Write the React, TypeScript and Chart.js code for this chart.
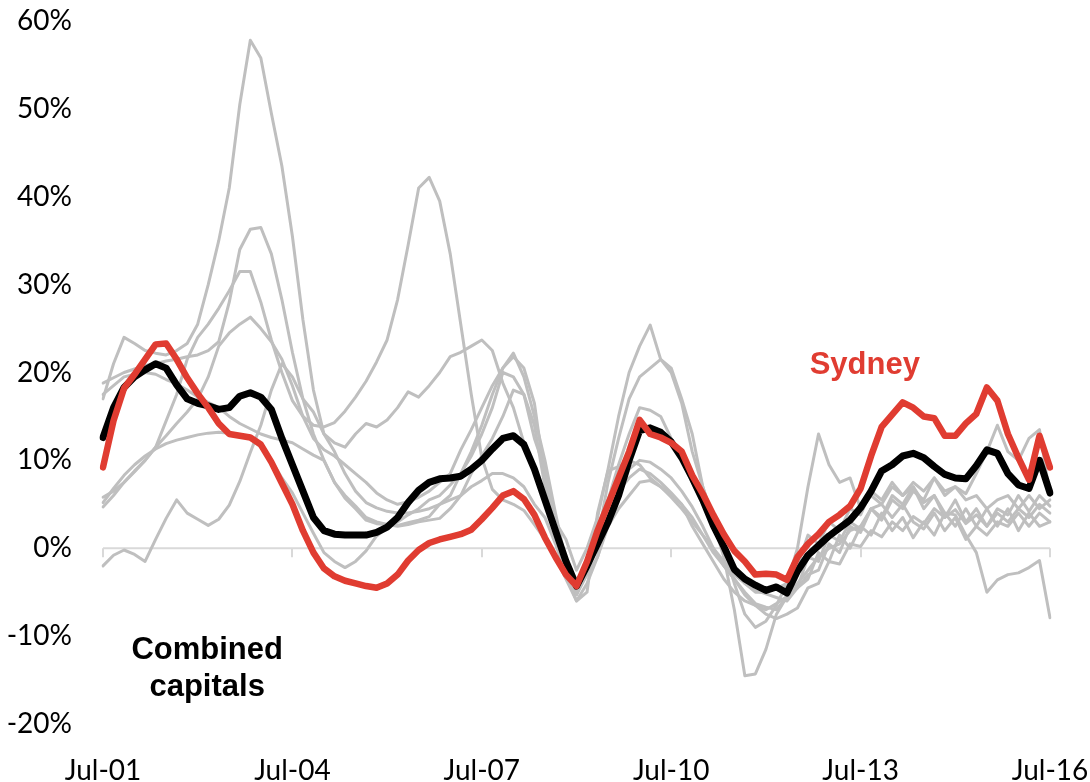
import { useEffect, useRef } from 'react';
import { Chart, registerables } from 'chart.js';

Chart.register(...registerables);

// Annual change in dwelling prices, one point every two months from Jul-01 to Jul-16 (%).
const sydney = [
  9.2, 14.5, 18.2, 19.8, 21.5, 23.2, 23.3, 21.5, 19.4, 17.6,
  16, 14.2, 13, 12.8, 12.6, 11.8, 9.8, 7.4, 5, 2,
  -0.5, -2.3, -3.2, -3.7, -4, -4.3, -4.5, -4, -3, -1.4,
  -0.2, 0.6, 1, 1.3, 1.6, 2.1, 3.3, 4.6, 6, 6.5,
  5.6, 3.8, 1.2, -1, -3, -4.3, -1.5, 2, 5, 8,
  11, 14.6, 13, 12.6, 12, 11, 8.3, 6.2, 3.8, 1.6,
  -0.3, -1.5, -3, -2.9, -3, -3.6, -1, 0.5, 1.6, 3,
  3.8, 4.8, 6.8, 10.5, 13.8, 15.2, 16.6, 16, 15, 14.8,
  12.8, 12.8, 14.2, 15.3, 18.3, 16.8, 13, 10.3, 7.8, 12.8,
  9.2,
];

const combinedCapitals = [
  12.6, 16, 18.3, 19.5, 20.3, 21, 20.5, 18.6, 17, 16.5,
  16.2, 15.8, 16, 17.3, 17.7, 17.2, 15.8, 12.5, 9.5, 6.5,
  3.5, 2, 1.6, 1.5, 1.5, 1.5, 1.8, 2.4, 3.5, 5.2,
  6.6, 7.5, 7.9, 8, 8.2, 9, 10, 11.3, 12.5, 12.8,
  11.8, 9, 5.5, 2, -1.5, -4.3, -2, 0.5, 3, 6,
  10, 13.4, 13.7, 13.2, 12.1, 10.3, 8, 5.5, 2.6, 0.2,
  -2.4, -3.5, -4.2, -4.8, -4.4, -5.1, -2.6, -0.8, 0.3, 1.4,
  2.3, 3.2, 4.6, 6.5, 8.8, 9.5, 10.5, 10.8, 10.3, 9.3,
  8.4, 8, 7.9, 9.4, 11.2, 10.8, 8.5, 7.2, 6.8, 10,
  6.3,
];

// The other capital cities, drawn as a grey backdrop.
const otherCityA = [
  17, 21, 24, 23.3, 22.5, 22.2, 22, 22.5, 23.3, 25.5,
  30, 35, 41, 50.5, 57.8, 55.8, 49.5, 43.5, 35.5, 26,
  18, 13, 11, 8.5, 6.5, 5.2, 4.6, 4.2, 4, 4,
  4.2, 4.5, 5, 5.5, 6, 8.5, 10.5, 12.5, 15, 18,
  17.5, 12.5, 9, 3, -2, -5.3, -3, -1, 3, 6,
  9, 10, 9.8, 9, 8, 6.5, 4.7, 2.5, 0, -2,
  -3.5, -5, -6.3, -6.7, -7, -5.5, -4, -2.5, -1, 0,
  0.5, 2, 2.5, 4.5, 5, 7, 6, 7.5, 6.5, 8,
  6.5, 7, 5.5, 6, 4.5, 5.5, 6, 4.5, 6, 4.5,
  5.5,
];

const otherCityB = [
  18.8, 19.4, 20, 20.4, 20.8, 21, 21.3, 21.5, 21.8, 22,
  22.5, 23.5, 28, 34, 36.3, 36.5, 33.5, 28.3, 22.3, 17,
  13, 10, 7.5, 5.7, 4.5, 3.2, 2.8, 2.7, 2.6, 2.9,
  3.2, 3.6, 5, 6, 8.5, 11, 14, 17.5, 20.5, 22.2,
  19.5, 15, 10, 4, -1.5, -5.3, -2.5, 1.5, 5, 6.5,
  8, 9, 8.5, 7.5, 6.3, 5, 3.5, 1.5, -0.5, -2,
  -3.5, -5.3, -6.5, -7.5, -8, -7.5, -6.8, -4.5, -4, -1.5,
  -1.8, 0.5, 0.2, 2, 1.3, 3, 2, 3.6, 2.8, 4.5,
  3.5, 4.4, 2.8, 3.8, 2.5, 4, 3, 4.5, 3.5, 5,
  4,
];

const otherCityC = [
  5.8, 6.5, 7.5, 8.7, 10, 11.5, 14.5, 17.5, 21.5, 24,
  25.5, 27.3, 29.3, 31.5, 31.5, 28, 23.7, 20, 16.8, 15,
  14, 13.8, 14.3, 15.6, 17.2, 19, 21.2, 23.7, 28.3, 34.5,
  41, 42.2, 39.5, 33.5, 25.5, 17.5, 10.3, 6.7, 5.5, 5,
  4.3, 2.7, 1, -1, -3.5, -6, -5, 4, 8.8, 9.3,
  10, 9.5, 8, 7, 5.8, 4.5, 3, 1.5, 0, -1.5,
  -3, -4, -5, -5, -4.6, -4, -2, 1.5, 0.5, 3,
  2, 4.5, 3.8, 6.5, 5.5, 7.5, 6, 7, 5.2, 6,
  4, 3.8, 1.5, -0.5, -5, -3.6, -3, -2.8, -2.2, -1.4,
  -7.9,
];

const otherCityD = [
  -2, -0.8, -0.2, -0.7, -1.5, 1, 3.4, 5.5, 4, 3.3,
  2.6, 3.3, 4.9, 7.6, 10.9, 14, 18, 21, 19.5, 17,
  15.5, 13, 12, 11.5, 13, 14.2, 13.8, 14.6, 16, 17.8,
  17.2, 18.5, 20, 21.8, 22.3, 23, 23.7, 22.5, 18.8, 16,
  12, 8.5, 5.5, 3, 1, -2.5, 0, 3.5, 9, 15,
  20, 23, 25.4, 21.5, 20, 16.5, 11, 7, 3.5, 0,
  -4, -7.5, -9, -8.3, -6.5, -4, 0, 7, 13, 9.5,
  7.5, 8, 4.5, 6, 5, 3.5, 5, 3, 2.2, 4,
  2, 3.5, 1, 2.5, 1.5, 3, 2.5, 4, 2.5, 4,
  3,
];

const otherCityE = [
  4.7, 6, 7.5, 8.8, 10, 11.5, 12.8, 14.2, 15.5, 17,
  19.5, 23, 24.5, 25.5, 26.3, 25, 23.5, 21.5, 18.5, 15,
  12.5, 11.2, 10.5, 9.5, 8.5, 7.5, 6.3, 5.5, 5, 5.3,
  5.8, 6.5, 7.5, 8.5, 11.2, 13.5, 16, 18.5, 20.5, 21.8,
  20.5, 16.5, 8, 2, -2, -4, -2, 1, 7.5, 12.5,
  17, 19.5, 20.5, 21.5, 20.5, 17, 13, 7, 3, -1,
  -7, -14.5, -14.3, -11.5, -7.5, -5.5, -4.5, -1, -1.5, 1.5,
  0.8, 3, 2.2, 4.5, 3.2, 5.5, 4.5, 6.5, 5.5, 8,
  6, 7, 6.2, 8.5, 11, 14, 11, 10, 12.5, 13.5,
  6,
];

const otherCityF = [
  17.5, 18.5, 19.5, 19.8, 20, 19.8, 19.2, 18.7, 18, 17.2,
  16.6, 16, 15, 14.2, 13.6, 13, 12.6, 12.3, 12, 11.3,
  10.6, 10, 7.5, 6, 4.8, 3.5, 3, 2.7, 2.5, 2.7,
  3, 3.2, 3.4, 4.5, 6, 7, 7.7, 8.5, 8.5, 8,
  7, 5, 3.5, 0.5, -3, -6, -4, -1, 2.5, 4.5,
  6, 7.5, 7.7, 7, 6, 5, 2.5, 0.5, -1.5, -3.5,
  -5, -6, -6.5, -7, -6.3, -5.5, -4.5, -3.5, -0.5, -1.5,
  1.5, 0, 2.5, 1.5, 4, 2, 3.5, 1.2, 3, 1.5,
  4, 2.5, 4.5, 2.5, 4.5, 2.5, 4.5, 2, 4, 2.5,
  3,
];

const otherCityG = [
  5.2, 6.8, 8.3, 9.5, 10.5, 11.3, 11.9, 12.3, 12.6, 12.9,
  13.1, 13.2, 13.1, 12.9, 12.5, 11.5, 10, 8, 6.3, 4,
  1.7, -0.5, -1.5, -2.2, -1.5, -0.3, 1.4, 2.3, 3, 3.8,
  4.5, 5.5, 6, 7.2, 8.5, 10.5, 13, 16, 20, 19.5,
  17.5, 14, 7, 1, -2, -5, -1.5, 2.5, 5.5, 9.5,
  13, 16, 15.7, 15, 12.5, 10, 7.5, 5, 2.5, 0,
  -2, -4, -4.8, -5.2, -5.6, -6, -4.5, -3, -2.5, 0.5,
  -0.5, 2.5, 1.8, 4.5, 3.5, 6, 5, 7, 4.5, 6,
  3.5, 5.5, 3, 4.5, 2.5, 4.5, 3.8, 6, 4.2, 6,
  4.8,
];

const otherCities = [otherCityA, otherCityB, otherCityC, otherCityD, otherCityE, otherCityF, otherCityG];

const MONTH_NAMES = ['Jan', 'Feb', 'Mar', 'Apr', 'May', 'Jun', 'Jul', 'Aug', 'Sep', 'Oct', 'Nov', 'Dec'];
const FIRST_MONTH = 6; // July
const FIRST_YEAR = 2001;
const MONTHS_PER_POINT = 2;
const LABEL_EVERY = 18; // one axis label every three years

const periodLabels = sydney.map((_, i) => {
  const m = FIRST_MONTH + i * MONTHS_PER_POINT;
  const yr = (FIRST_YEAR + Math.floor(m / 12)) % 100;
  return `${MONTH_NAMES[m % 12]}-${String(yr).padStart(2, '0')}`;
});

const Y_MIN = -20;
const Y_MAX = 60;
const Y_STEP = 10;

const RED = '#e03c31';
const GREY = '#bfbfbf';
const AXIS_GREY = '#d9d9d9';
const TICK_FONT = 'Lato, "Liberation Sans", sans-serif';
const NOTE_FONT = '"Liberation Sans", Arial, sans-serif';

// Text notes placed in data coordinates: [point index, value %]
const notes = [
  { lines: ['Sydney'], at: [72.4, 20.8], color: RED },
  { lines: ['Combined', 'capitals'], at: [9.9, -13.7], color: '#000000' },
];

const zeroAxisPlugin = {
  id: 'zeroAxis',
  beforeDatasetsDraw(chart: any) {
    const { ctx, chartArea, scales } = chart;
    const y0 = scales.y.getPixelForValue(0);
    ctx.save();
    ctx.strokeStyle = AXIS_GREY;
    ctx.lineWidth = 2;
    ctx.beginPath();
    ctx.moveTo(chartArea.left, y0);
    ctx.lineTo(chartArea.right, y0);
    for (let i = 0; i < periodLabels.length; i += LABEL_EVERY) {
      const x = Math.round(scales.x.getPixelForValue(i));
      ctx.moveTo(x, y0);
      ctx.lineTo(x, y0 + 9);
    }
    ctx.stroke();
    ctx.restore();
  },
  afterDatasetsDraw(chart: any) {
    const { ctx, scales } = chart;
    ctx.save();
    ctx.font = `bold 31px ${NOTE_FONT}`;
    ctx.textAlign = 'center';
    ctx.textBaseline = 'middle';
    const lineGap = 37;
    for (const note of notes) {
      const cx = scales.x.getPixelForValue(note.at[0]);
      const cy = scales.y.getPixelForValue(note.at[1]);
      ctx.fillStyle = note.color;
      const top = cy - ((note.lines.length - 1) * lineGap) / 2;
      note.lines.forEach((t, k) => ctx.fillText(t, cx, top + k * lineGap));
    }
    ctx.restore();
  },
};

export default function App() {
  const canvasRef = useRef<HTMLCanvasElement | null>(null);

  useEffect(() => {
    if (!canvasRef.current) return;
    const greyDatasets = otherCities.map((values, k) => ({
      label: `city${k + 1}`,
      data: values,
      borderColor: GREY,
      borderWidth: 3,
      pointRadius: 0,
      tension: 0,
      borderJoinStyle: 'round' as const,
      borderCapStyle: 'round' as const,
    }));
    const chart = new Chart(canvasRef.current, {
      type: 'line',
      data: {
        labels: periodLabels,
        datasets: [
          {
            label: 'Sydney',
            data: sydney,
            borderColor: RED,
            borderWidth: 6.5,
            pointRadius: 0,
            tension: 0,
            borderJoinStyle: 'round',
            borderCapStyle: 'round',
          },
          {
            label: 'Combined capitals',
            data: combinedCapitals,
            borderColor: '#000000',
            borderWidth: 7,
            pointRadius: 0,
            tension: 0,
            borderJoinStyle: 'round',
            borderCapStyle: 'round',
          },
          ...greyDatasets,
        ],
      },
      options: {
        animation: false,
        responsive: true,
        maintainAspectRatio: false,
        layout: { padding: { top: 21, right: 40, bottom: 0, left: 0 } },
        plugins: {
          legend: { display: false },
          tooltip: { enabled: false },
        },
        scales: {
          x: {
            type: 'category',
            offset: false,
            grid: { display: false, drawTicks: false },
            border: { display: false },
            afterFit: (scale: any) => {
              scale.height = 58;
              scale.paddingLeft = 0;
              scale.paddingRight = 0;
            },
            ticks: {
              autoSkip: false,
              maxRotation: 0,
              minRotation: 0,
              padding: 30,
              color: '#000000',
              font: { family: TICK_FONT, size: 28 },
              callback: (_v: any, i: number) => (i % LABEL_EVERY === 0 ? periodLabels[i] : ''),
            },
          },
          y: {
            min: Y_MIN,
            max: Y_MAX,
            grid: { display: false, drawTicks: false },
            border: { display: false },
            afterFit: (scale: any) => {
              scale.width = 103;
              scale.paddingTop = 0;
              scale.paddingBottom = 0;
            },
            ticks: {
              stepSize: Y_STEP,
              padding: 31,
              color: '#000000',
              font: { family: TICK_FONT, size: 28 },
              callback: (v: any) => `${v}%`,
            },
          },
        },
      },
      plugins: [zeroAxisPlugin],
    });
    return () => chart.destroy();
  }, []);

  return (
    <div style={{ position: 'fixed', left: 0, top: 0, width: 1090, height: 782, background: '#ffffff' }}>
      <canvas ref={canvasRef} />
    </div>
  );
}
